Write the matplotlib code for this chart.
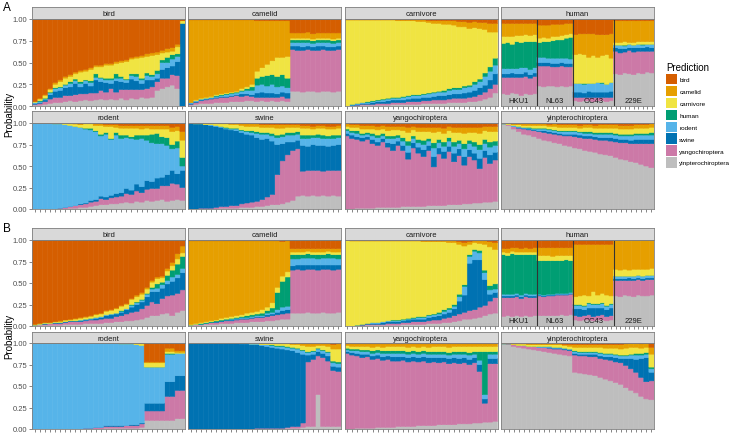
import numpy as np
import matplotlib
matplotlib.use("Agg")
import matplotlib.pyplot as plt
from matplotlib.patches import Patch

plt.rcParams["font.family"] = ["Liberation Sans", "DejaVu Sans"]

# class order from the bottom of each stacked bar to the top
classes = ["yinpterochiroptera", "yangochiroptera", "swine", "rodent",
           "human", "carnivore", "camelid", "bird"]
colors = {"bird": "#D55E00", "camelid": "#E69F00", "carnivore": "#F0E442",
          "human": "#009E73", "rodent": "#56B4E9", "swine": "#0072B2",
          "yangochiroptera": "#CC79A7", "yinpterochiroptera": "#BEBEBE"}
legend_order = ["bird", "camelid", "carnivore", "human", "rodent", "swine",
                "yangochiroptera", "yinpterochiroptera"]
facets = ["bird", "camelid", "carnivore", "human",
          "rodent", "swine", "yangochiroptera", "yinpterochiroptera"]
human_groups = ["HKU1", "NL63", "OC43", "229E"]
ytick_labels = ["0.00", "0.25", "0.50", "0.75", "1.00"]

# percent per bar: yinptero, yango, swine, rodent, human, carnivore, camelid
# (bird fills the rest of each bar up to 100)

# ---------------- panel A ----------------
A_bird = [(1,1,1,1,0,1,0),(1,2,1,1,1,2,1),(2,3,2,1,1,3,1),(3,5,5,2,1,3,1),
          (4,6,7,3,1,4,2),(4,6,8,3,1,6,2),(5,7,9,3,1,7,2),(6,6,10,4,2,6,2),
          (5,8,13,3,2,6,2),(6,8,8,4,2,11,2),(7,7,12,3,1,10,2),(6,9,8,4,2,13,2),
          (7,8,15,3,4,8,2),(8,10,10,4,1,12,2),(7,9,11,3,2,15,2),(8,12,6,4,2,15,2),
          (7,9,13,3,5,12,2),(9,10,9,4,2,16,2),(7,12,8,3,1,20,2),(9,10,12,4,2,17,2),
          (8,11,10,5,3,18,2),(10,9,7,4,2,24,2),(9,11,10,5,3,19,3),(10,12,8,4,2,22,3),
          (18,10,4,5,4,18,3),(20,12,10,8,3,8,3),(22,10,12,6,6,6,4),(24,12,10,8,5,4,4),
          (20,15,16,6,3,8,3),(0,0,95,0,0,3,0)]
A_camelid = [(1,1,1,1,0,0,95),(2,2,1,1,0,1,92),(3,3,1,1,0,1,90),(3,4,1,1,0,1,89),
             (3,5,1,1,0,1,88),(4,5,1,1,1,1,86),(4,6,1,1,1,1,85),(4,6,1,2,1,1,84),
             (5,6,1,2,1,1,83),(5,7,1,2,1,1,82),(5,6,3,3,1,2,79),(6,6,2,4,2,2,77),
             (6,5,2,5,4,3,74),(5,5,5,9,8,8,58),(6,4,6,9,9,10,54),(5,5,5,8,12,13,50),
             (6,4,5,10,11,16,46),(5,5,4,8,12,22,42),(6,5,5,7,13,20,42),(5,4,6,6,11,25,41),
             (17,48,4,4,3,2,6),(17,47,5,4,3,2,6),(16,48,4,5,3,2,6),(17,48,4,4,3,2,7),
             (17,47,4,4,3,2,6),(16,48,5,4,3,2,6),(17,48,4,4,3,2,6),(17,47,4,5,3,2,6),
             (16,48,4,4,3,2,7),(17,48,4,4,3,2,6)]
A_carnivore = [(0,0,0,0,0,99,0),(0,0,1,1,0,97,0),(0,1,1,1,0,96,0),(1,1,1,1,0,95,0),
               (1,1,1,1,1,94,0),(1,1,2,1,1,93,0),(1,2,2,1,1,92,0),(1,2,2,2,1,91,0),
               (1,2,3,2,1,90,0),(2,2,3,2,1,89,0),(2,2,3,2,1,88,1),(2,2,3,3,1,87,1),
               (2,3,3,3,1,86,1),(2,3,4,3,1,85,1),(2,3,4,3,1,84,2),(3,3,4,3,1,83,2),
               (3,3,4,4,1,81,2),(3,4,4,4,1,79,3),(3,4,5,4,1,78,3),(3,4,5,4,2,76,4),
               (4,4,5,5,2,74,4),(4,5,5,5,2,72,5),(4,5,5,5,2,70,6),(4,5,6,6,2,68,6),
               (5,5,6,6,2,65,7),(5,6,7,7,3,62,7),(6,7,8,7,3,58,7),(8,8,8,10,4,50,8),
               (10,10,10,10,5,40,10),(15,10,12,10,8,30,10)]
A_hku1 = [(14,19,4,6,29,8,15),(13,20,4,6,30,7,15),(15,18,5,5,28,9,15),(14,19,4,6,31,7,14),
          (12,21,4,7,29,8,14),(14,20,5,5,30,8,13),(13,19,4,6,32,7,14),(14,20,4,6,30,8,13)]
A_nl63 = [(23,23,4,6,17,5,15),(22,24,4,6,18,5,14),(23,23,4,5,19,4,15),(23,22,4,6,20,5,14),
          (22,23,4,6,21,4,14),(23,23,4,5,21,5,13),(22,23,4,6,23,4,13),(23,22,4,5,25,4,12)]
A_oc43 = [(6,4,6,10,0,33,23),(5,5,6,10,0,34,23),(6,4,5,10,1,33,24),(6,4,7,9,0,30,27),
          (5,5,6,10,0,32,25),(6,4,6,11,0,29,26),(6,4,6,10,1,31,24),(5,5,6,9,0,34,23),
          (6,4,7,10,0,28,28)]
A_229e = [(37,26,4,3,0,3,25),(36,25,5,4,0,3,25),(38,24,4,3,1,4,24),(37,27,3,4,0,2,25),
          (36,26,5,3,0,3,25),(38,25,4,4,0,3,24),(37,26,4,3,1,3,24),(39,24,5,3,0,3,24),
          (38,25,4,4,0,3,24)]
A_rodent = [(0,0,0,100,0,0,0),(0,0,0,100,0,0,0),(0,0,0,100,0,0,0),(0,0,0,100,0,0,0),
            (0,0,0,99,0,1,0),(0,1,0,98,0,1,0),(0,2,0,96,0,2,0),(1,2,0,94,0,2,1),
            (1,3,0,92,0,3,0),(2,3,1,89,0,3,1),(2,4,1,86,1,5,1),(3,5,2,82,2,5,1),
            (4,5,2,79,1,6,2),(5,7,3,70,2,10,2),(5,6,3,73,2,7,2),(6,7,3,65,1,14,2),
            (6,8,4,68,3,6,3),(7,8,4,63,4,8,3),(8,10,6,59,3,8,3),(7,10,5,60,2,10,3),
            (9,12,8,52,5,8,3),(8,11,7,56,4,7,4),(10,13,10,47,6,8,3),(9,15,8,45,10,6,4),
            (10,14,12,40,12,5,4),(11,16,10,39,8,9,4),(9,18,13,34,9,10,4),(10,20,15,25,5,15,5),
            (11,18,12,30,8,12,5),(10,15,20,5,10,20,10)]
A_swine = [(0,0,100,0,0,0,0),(0,0,99,0,0,1,0),(0,1,98,0,0,1,0),(0,1,97,0,0,1,1),
           (0,1,96,1,0,1,1),(0,2,94,1,0,2,1),(1,2,92,1,0,3,1),(1,2,90,1,1,4,1),
           (1,3,88,1,1,4,2),(1,3,87,2,1,4,2),(2,4,83,2,1,5,2),(2,5,80,3,1,5,3),
           (2,6,78,3,2,5,3),(3,6,74,5,2,6,3),(3,8,70,6,2,6,3),(4,10,68,5,2,6,3),
           (5,12,62,6,3,7,3),(5,35,35,8,3,8,4),(6,50,20,8,3,7,4),(8,55,15,8,3,6,3),
           (10,58,10,8,3,6,3),(15,55,10,7,3,5,3),(16,28,30,8,4,8,3),(15,30,28,9,4,8,3),
           (16,29,30,8,3,7,3),(15,30,29,9,4,7,3),(16,28,30,8,4,8,3),(15,30,28,9,3,8,3),
           (16,29,29,8,4,7,3),(15,30,30,8,3,8,3)]
A_yango = [(0,85,3,3,2,3,3),(0,82,4,3,2,4,3),(1,80,3,4,3,4,3),(1,78,4,3,2,5,4),
           (1,80,3,3,2,4,4),(1,75,5,4,3,5,4),(2,72,4,5,3,6,4),(2,76,4,3,3,5,4),
           (2,70,5,5,3,6,5),(2,66,8,6,3,7,4),(2,72,5,4,3,6,4),(3,65,6,5,4,8,5),
           (3,55,8,8,5,10,6),(3,68,6,5,3,7,4),(3,62,7,5,4,9,5),(3,58,8,6,5,10,5),
           (4,64,6,5,3,8,5),(4,45,12,10,6,12,6),(4,60,7,6,4,9,5),(4,55,8,6,5,10,6),
           (5,62,6,6,4,8,5),(5,50,10,8,5,11,6),(5,57,8,6,4,9,6),(6,45,10,9,6,12,7),
           (6,55,8,7,4,9,6),(7,50,8,8,5,11,6),(7,40,12,10,6,13,7),(8,52,8,8,5,10,5),
           (8,45,10,9,6,12,6),(9,48,9,8,5,11,6)]
A_yinptero = [(99,0,0,0,0,1,0),(97,1,0,0,0,1,1),(93,3,0,1,0,1,1),(90,4,1,1,0,2,1),
              (87,6,1,1,0,2,2),(86,6,1,1,1,2,2),(84,7,1,1,1,3,2),(82,8,1,2,1,3,2),
              (80,9,2,2,1,3,2),(79,9,2,2,1,3,2),(77,10,2,2,1,4,3),(76,10,2,2,1,4,3),
              (74,11,2,3,1,4,3),(73,12,2,3,1,4,3),(71,13,3,3,1,4,3),(70,13,3,3,1,4,3),
              (68,14,3,3,2,5,3),(67,15,3,3,2,5,3),(66,15,3,3,2,5,3),(64,16,3,4,2,5,4),
              (63,17,3,4,2,5,4),(62,17,4,4,2,5,4),(60,18,4,4,2,6,4),(58,19,4,4,2,6,4),
              (57,20,4,4,2,6,4),(55,21,4,5,2,6,4),(54,22,5,5,2,6,4),(52,24,5,5,2,6,4),
              (50,26,5,5,2,6,4),(48,28,5,5,3,6,4)]

# ---------------- panel B ----------------
B_bird = [(0,1,0,0,0,1,0),(1,1,0,0,0,1,0),(1,1,1,0,0,1,0),(1,2,0,0,0,1,0),
          (1,2,1,0,0,1,0),(1,2,1,0,0,1,1),(2,2,1,0,0,2,0),(2,3,1,0,0,1,1),
          (2,3,1,0,0,2,1),(2,3,1,1,0,2,1),(3,3,1,1,0,2,1),(3,4,1,1,0,2,1),
          (3,4,2,1,0,3,1),(3,5,2,1,0,3,1),(4,5,3,1,0,4,1),(4,5,4,1,0,4,1),
          (5,6,3,1,0,5,1),(5,7,4,1,1,5,1),(6,8,5,1,0,5,1),(6,10,6,2,1,6,1),
          (7,10,8,2,1,6,2),(8,12,8,2,1,6,2),(10,14,10,3,1,5,2),(12,16,12,3,2,6,2),
          (12,14,14,4,5,6,2),(14,18,12,4,3,5,2),(15,20,14,4,6,5,3),(12,24,16,5,8,5,4),
          (16,22,18,4,12,6,6),(18,24,20,5,14,4,8)]
B_camelid = [(1,0,0,0,0,1,97),(1,1,0,0,0,1,96),(1,1,0,0,1,1,95),(2,1,0,0,1,1,94),
             (2,2,0,0,1,1,93),(2,2,1,0,1,1,92),(3,2,1,0,1,2,90),(3,3,1,0,1,2,89),
             (3,3,1,1,1,2,88),(4,3,1,1,1,2,87),(4,4,1,1,1,2,86),(4,4,1,1,2,3,84),
             (5,4,1,1,2,3,83),(5,5,1,1,2,3,82),(5,5,1,1,3,4,80),(6,5,2,2,3,4,77),
             (6,6,2,2,5,6,72),(7,6,3,3,20,6,54),(8,6,4,4,30,6,40),(8,7,4,4,34,6,36),
             (15,50,5,8,5,3,4),(15,51,5,7,5,3,4),(15,50,6,8,4,3,4),(16,50,5,8,5,3,3),
             (15,51,5,8,4,3,4),(15,50,6,7,5,3,4),(16,50,5,8,4,3,4),(15,51,5,8,5,3,3),
             (15,50,6,8,4,3,4),(16,50,5,7,5,3,4)]
B_carnivore = [(0,0,0,0,0,100,0),(0,0,0,0,0,99,0),(0,0,1,0,0,98,0),(0,1,1,0,0,97,0),
               (1,1,1,0,0,96,0),(1,1,1,1,0,95,0),(1,1,1,1,0,95,0),(1,1,2,1,0,94,0),
               (1,2,2,1,0,93,0),(1,2,2,1,1,92,0),(1,2,2,1,1,92,0),(2,2,2,1,1,91,0),
               (2,2,3,1,1,90,0),(2,3,3,1,1,89,0),(2,3,3,2,1,88,0),(2,3,3,2,1,87,1),
               (3,3,4,2,1,85,1),(3,4,4,2,1,84,1),(3,4,5,2,2,82,1),(4,5,5,3,2,79,1),
               (4,6,6,3,2,76,2),(5,7,8,3,2,72,2),(6,8,15,5,3,58,3),(8,8,20,10,2,45,4),
               (8,10,55,8,2,12,3),(9,10,58,10,2,8,2),(10,12,55,8,3,8,3),(12,12,30,8,3,30,4),
               (14,15,8,5,5,45,6),(15,18,6,4,6,40,8)]
B_hku1 = [(11,22,2,2,46,3,4),(12,21,2,2,45,3,5),(11,22,2,2,47,3,4),(12,22,2,2,45,3,5),
          (11,21,2,2,47,3,4),(12,22,2,2,45,3,5),(11,22,2,2,46,3,4),(12,21,2,2,46,3,5)]
B_nl63 = [(12,23,1,1,39,6,9),(12,22,1,1,40,6,9),(12,23,1,1,39,6,9),(12,23,1,1,39,5,10),
          (12,24,1,1,38,6,9),(13,23,1,1,38,6,9),(12,24,1,1,39,5,9),(13,24,1,1,37,6,9)]
B_oc43 = [(7,5,8,4,1,9,61),(6,5,9,4,1,10,60),(7,5,7,4,1,12,59),(7,6,8,5,1,8,60),
          (6,5,10,4,1,14,55),(7,5,9,4,1,10,59),(7,6,8,5,1,11,57),(6,5,8,4,1,12,59),
          (7,5,9,4,1,9,60)]
B_229e = [(35,18,2,3,0,8,34),(34,19,2,3,0,7,35),(36,17,2,3,0,8,34),(35,18,3,2,0,7,35),
          (34,19,2,3,0,8,34),(36,18,2,3,0,7,34),(35,18,2,3,0,8,34),(35,19,2,3,0,7,34),
          (36,18,2,3,0,8,33)]
B_rodent = [(0,0,0,100,0,0,0)] * 10 + [
            (0,1,0,99,0,0,0),(0,1,0,99,0,0,0),(0,2,0,98,0,0,0),(0,2,0,98,0,0,0),
            (1,2,1,96,0,0,0),(1,2,1,96,0,0,0),(1,2,1,96,0,0,0),(1,2,1,95,0,1,0),
            (1,3,0,95,0,1,0),(1,3,1,94,0,1,0),(1,3,1,93,0,1,1),(2,4,1,90,0,2,1),
            (10,11,9,42,0,5,1),(10,11,9,42,0,5,1),(10,11,9,42,0,5,1),(10,11,9,42,0,5,1),
            (10,28,17,32,1,2,4),(10,28,17,32,1,2,4),(12,33,17,26,0,1,2),(12,33,17,26,0,1,2)]
B_swine = [(0,0,100,0,0,0,0)] * 10 + [
           (0,0,99,1,0,0,0),(0,0,99,1,0,0,0),(0,0,98,1,0,1,0),(0,1,97,1,0,1,0),
           (0,1,96,1,0,1,1),(0,1,95,2,0,1,1),(0,1,94,2,1,1,1),(0,1,93,2,1,2,1),
           (0,1,92,3,1,2,1),(1,1,90,3,1,3,1),(1,2,88,3,1,3,2),(1,2,86,4,1,4,2),
           (2,5,80,4,1,5,2),(3,75,8,3,1,6,3),(3,78,6,3,1,5,3),(40,45,5,3,1,3,2),
           (3,80,5,3,1,5,2),(3,76,6,4,1,6,3),(3,65,5,4,2,14,5),(3,64,5,4,2,15,6)]
B_yango = [(0,88,2,2,2,3,2),(0,86,3,2,2,3,3),(1,84,3,3,2,3,3),(1,82,4,3,2,4,3),
           (1,83,3,3,2,4,3),(1,80,4,3,3,4,4),(2,80,4,3,3,4,3),(2,78,4,4,3,4,4),
           (2,79,4,3,3,5,3),(2,77,5,4,3,5,3),(3,76,5,4,3,5,3),(3,77,4,4,3,5,3),
           (3,75,5,4,3,5,4),(3,76,5,4,3,5,3),(4,74,5,4,3,5,4),(4,75,5,4,3,5,3),
           (4,73,6,4,3,5,4),(4,74,5,4,3,6,3),(5,72,6,4,3,6,3),(5,73,5,4,3,6,3),
           (5,71,6,4,3,6,4),(5,72,6,4,3,6,3),(6,70,6,5,3,6,3),(6,71,6,4,3,6,3),
           (6,69,6,5,3,7,3),(7,70,6,4,3,6,3),(7,60,8,5,10,6,3),(8,22,5,5,50,6,3),
           (8,68,6,5,3,6,3),(9,67,6,5,3,6,3)]
B_yinptero = [(99,0,0,0,0,1,0),(98,1,0,0,0,1,0),(96,2,0,0,0,1,0),(95,2,0,0,0,2,0),
              (94,3,0,0,0,2,0),(93,3,0,0,0,2,1),(92,4,0,0,0,2,1),(91,4,0,1,0,2,1),
              (90,5,0,1,0,2,1),(89,5,1,1,0,2,1),(88,5,1,1,0,3,1),(87,6,1,1,0,3,1),
              (86,6,1,1,0,3,1),(85,6,1,1,0,3,2),(66,20,2,2,1,4,3),(65,20,2,2,1,5,3),
              (64,21,2,2,1,5,3),(63,21,3,2,1,5,3),(62,22,3,2,1,5,3),(60,22,3,3,1,6,3),
              (58,23,3,3,1,6,4),(56,24,4,3,1,6,4),(54,24,5,3,1,7,4),(52,25,5,3,1,7,5),
              (48,26,8,3,1,8,5),(45,25,12,4,1,8,5),(42,24,15,5,2,7,5),(38,22,22,4,2,6,5),
              (35,20,28,4,2,6,5),(34,22,10,4,2,15,8)]

panel_A = [A_bird, A_camelid, A_carnivore, [A_hku1, A_nl63, A_oc43, A_229e],
           A_rodent, A_swine, A_yango, A_yinptero]
panel_B = [B_bird, B_camelid, B_carnivore, [B_hku1, B_nl63, B_oc43, B_229e],
           B_rodent, B_swine, B_yango, B_yinptero]

W, H = 732, 435
fig = plt.figure(figsize=(W / 100, H / 100), dpi=100)


def box(x0, y0, w, h):
    return [x0 / W, 1 - (y0 + h) / H, w / W, h / H]


def stack(ax, rows, offset=0):
    vals = np.array(rows, dtype=float) / 100
    bird = np.clip(1 - vals.sum(axis=1), 0, None)
    vals = np.column_stack([vals, bird])
    x = np.arange(len(rows)) + offset
    bottom = np.zeros(len(rows))
    for k, cls in enumerate(classes):
        bars = ax.bar(x, vals[:, k], bottom=bottom, width=1.0, color=colors[cls],
                      edgecolor=colors[cls], linewidth=0.4)
        for b in bars:
            b.set_snap(False)
        bottom += vals[:, k]
    return len(rows)


col_x = [32, 188, 344.5, 501]
col_w = 153
rows_y = [(8, 20, 87), (112, 124, 86), (229, 241, 86), (333, 344, 86)]

for p, panel in enumerate([panel_A, panel_B]):
    for i, data in enumerate(panel):
        r = p * 2 + i // 4
        c = i % 4
        sy, py, ph = rows_y[r]
        ax = fig.add_axes(box(col_x[c], py, col_w, ph))
        if facets[i] == "human":
            n = 0
            bounds = []
            for g, rows in enumerate(data):
                start = n
                n += stack(ax, rows, offset=n)
                bounds.append((start, n))
            for g, (s, e) in enumerate(bounds):
                if g > 0:
                    ax.axvline(s - 0.5, color="#333333", lw=0.8)
                ax.text((s + e - 1) / 2, 0.06, human_groups[g], ha="center",
                        va="center", fontsize=5.5, color="#1a1a1a")
        else:
            n = stack(ax, data)
        ax.set_xlim(-0.5, n - 0.5)
        ax.set_ylim(0, 1)
        ax.set_xticks(np.arange(n))
        ax.set_xticklabels([])
        ax.set_yticks([0, 0.25, 0.5, 0.75, 1.0])
        ax.tick_params(axis="both", length=2, width=0.5, color="#555555",
                       labelsize=5.5, labelcolor="#4d4d4d", pad=1.2)
        if c == 0:
            ax.set_yticklabels(ytick_labels)
        else:
            ax.set_yticklabels([])
            ax.tick_params(axis="y", length=0)
        for s in ax.spines.values():
            s.set_color("#7f7f7f")
            s.set_linewidth(0.6)
        # facet strip
        st = fig.add_axes(box(col_x[c], sy, col_w, py - sy))
        st.set_facecolor("#d9d9d9")
        st.set_xticks([])
        st.set_yticks([])
        for s in st.spines.values():
            s.set_color("#7f7f7f")
            s.set_linewidth(0.6)
        st.text(0.5, 0.45, facets[i], ha="center", va="center",
                fontsize=5.5, color="#1a1a1a", transform=st.transAxes)

fig.text(3 / W, 1 - 8 / H, "A", fontsize=8.5, va="center", ha="left")
fig.text(3 / W, 1 - 229 / H, "B", fontsize=8.5, va="center", ha="left")
fig.text(9 / W, 1 - 114 / H, "Probability", rotation=90, fontsize=7,
         va="center", ha="center")
fig.text(9 / W, 1 - 336 / H, "Probability", rotation=90, fontsize=7,
         va="center", ha="center")

handles = [Patch(facecolor=colors[k], edgecolor="none") for k in legend_order]
fig.legend(handles, legend_order, title="Prediction", loc="upper left",
           bbox_to_anchor=(662 / W, 1 - 59 / H), frameon=False, fontsize=4.6,
           title_fontsize=7, handlelength=1.6, handleheight=2.1,
           labelspacing=0.25, handletextpad=0.4, alignment="left",
           borderpad=0.2)

fig.savefig("out.png", dpi=100)
